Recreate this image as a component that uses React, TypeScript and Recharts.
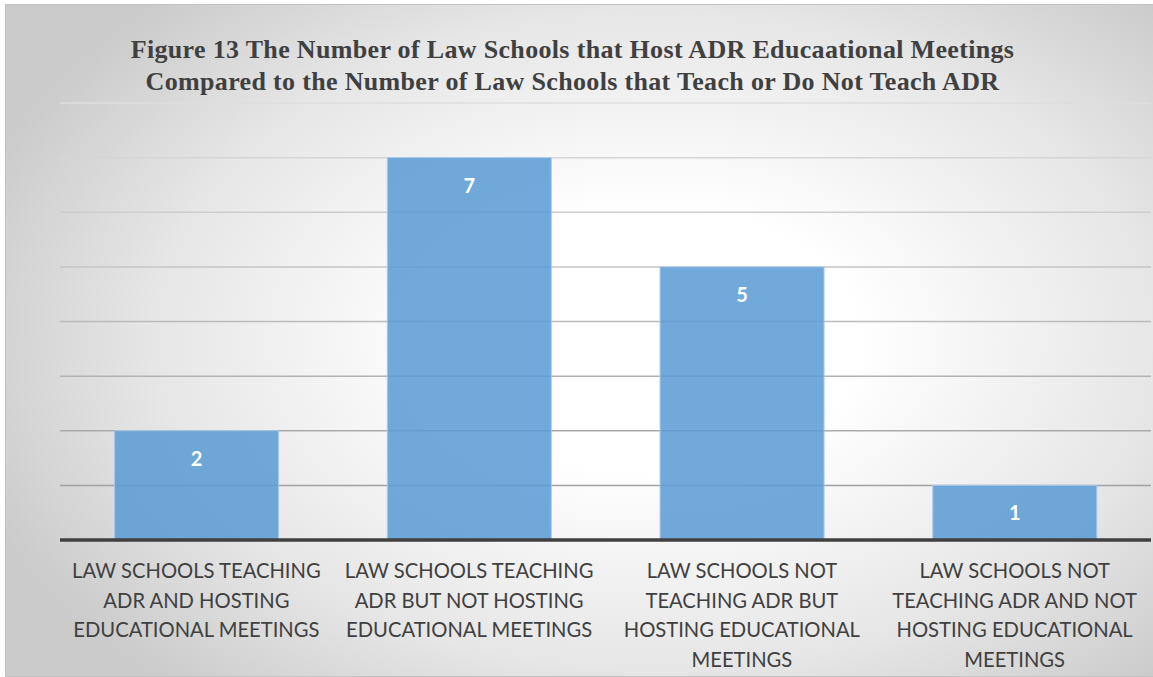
import React from 'react';
import { BarChart, Bar, XAxis, YAxis, CartesianGrid, LabelList } from 'recharts';

// Category labels (line breaks as they appear under each bar)
const categories: string[] = [
  'LAW SCHOOLS TEACHING\nADR AND HOSTING\nEDUCATIONAL MEETINGS',
  'LAW SCHOOLS TEACHING\nADR BUT NOT HOSTING\nEDUCATIONAL MEETINGS',
  'LAW SCHOOLS NOT\nTEACHING ADR BUT\nHOSTING EDUCATIONAL\nMEETINGS',
  'LAW SCHOOLS NOT\nTEACHING ADR AND NOT\nHOSTING EDUCATIONAL\nMEETINGS',
];

// Number of law schools in each group
const schoolCounts: number[] = [2, 7, 5, 1];

// Value-axis ticks (axis itself is hidden, only gridlines show)
const yTicks: number[] = [0, 1, 2, 3, 4, 5, 6, 7, 8];

const titleLines: string[] = [
  'Figure 13 The Number of Law Schools that Host ADR Educaational Meetings',
  'Compared to the Number of Law Schools that Teach or Do Not Teach ADR',
];

const data = categories.map((name, i) => ({ name, count: schoolCounts[i] }));

const LABEL_FONT = 'Lato, "Open Sans", sans-serif';
const TEXT_COLOR = '#404040';

// Gridlines fade from light at the top to darker near the baseline
const shadeGridLine = (props: any) => {
  const { x1, x2, y1, y2, y, height, index } = props;
  const t = height ? Math.max(0, Math.min(1, (y1 - y) / height)) : 0;
  const v = Math.round(222 - t * (222 - 152));
  const c = `rgb(${v},${v},${v})`;
  return <line key={`h-${index}`} x1={x1} x2={x2} y1={y1} y2={y2} stroke={c} strokeWidth={1.5} />;
};

const CategoryTick = (props: any) => {
  const { x, y, payload } = props;
  const lines = String(payload.value).split('\n');
  return (
    <text
      x={x}
      y={y}
      textAnchor="middle"
      fill={TEXT_COLOR}
      fontFamily={LABEL_FONT}
      fontSize={20.2}
    >
      {lines.map((ln, i) => (
        <tspan key={i} x={x} dy={i === 0 ? 38 : 29.5}>
          {ln}
        </tspan>
      ))}
    </text>
  );
};

const ValueLabel = (props: any) => {
  const { x, y, width, value } = props;
  return (
    <text
      x={x + width / 2}
      y={y + 35}
      textAnchor="middle"
      fill="#ffffff"
      fontFamily={LABEL_FONT}
      fontWeight="bold"
      fontSize={20}
    >
      {value}
    </text>
  );
};

export default function App() {
  return (
    <div
      style={{
        position: 'absolute',
        left: 0,
        top: 0,
        width: 1153,
        height: 677,
        background: '#ffffff',
        overflow: 'hidden',
      }}
    >
      <div
        style={{
          position: 'absolute',
          left: 5,
          top: 4,
          width: 1160,
          height: 671,
          border: '1px solid #c2c2c2',
          background:
            'radial-gradient(ellipse 62% 70% at 56% 50%, #ffffff 0%, #ffffff 28%, #e6e6e6 70%, #cbcbcb 100%)',
        }}
      />
      <div
        style={{
          position: 'absolute',
          left: 0,
          top: 33.5,
          width: 1145,
          textAlign: 'center',
          fontFamily: '"Liberation Serif", "Times New Roman", serif',
          fontWeight: 'bold',
          fontSize: 26,
          letterSpacing: '0.33px',
          lineHeight: '32px',
          color: TEXT_COLOR,
        }}
      >
        {titleLines.map((t, i) => (
          <div key={i}>{t}</div>
        ))}
      </div>
      <div style={{ position: 'absolute', left: 0, top: 0 }}>
        <BarChart
          width={1153}
          height={677}
          data={data}
          margin={{ top: 103, right: 2, bottom: 0, left: 60 }}
          barCategoryGap="20%"
        >
          <CartesianGrid vertical={false} horizontal={shadeGridLine} />
          <YAxis hide domain={[0, 8]} ticks={yTicks} />
          <XAxis
            dataKey="name"
            height={137}
            interval={0}
            tickLine={false}
            tickSize={0}
            tickMargin={0}
            axisLine={{ stroke: '#404040', strokeWidth: 3.5 }}
            tick={<CategoryTick />}
          />
          <Bar
            dataKey="count"
            fill="#5B9BD5"
            fillOpacity={0.86}
            stroke="#a8c9ea"
            strokeWidth={1}
            isAnimationActive={false}
          >
            <LabelList dataKey="count" content={<ValueLabel />} />
          </Bar>
        </BarChart>
      </div>
    </div>
  );
}
